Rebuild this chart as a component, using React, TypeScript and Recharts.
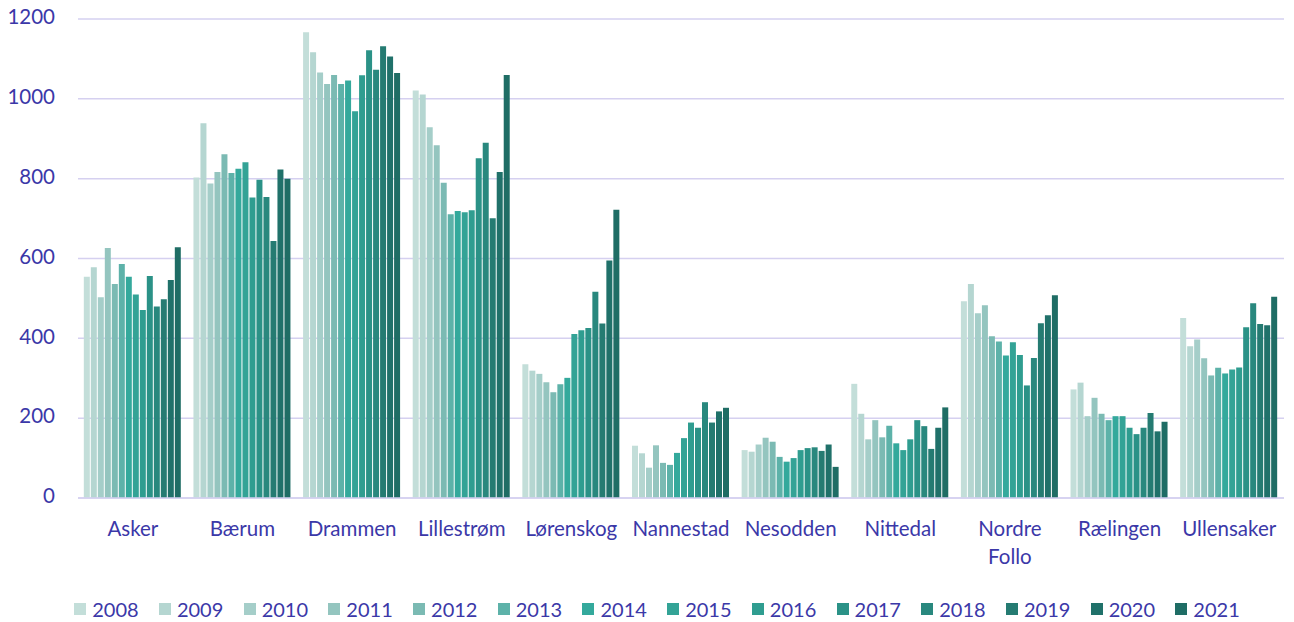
import React from "react";
import { BarChart, Bar, XAxis, YAxis, CartesianGrid, Legend } from "recharts";

const categories = ["Asker", "Bærum", "Drammen", "Lillestrøm", "Lørenskog", "Nannestad", "Nesodden", "Nittedal", "Nordre Follo", "Rælingen", "Ullensaker"];

const v2008 = [554, 803, 1167, 1021, 335, 131, 120, 286, 493, 272, 451];
const v2009 = [578, 939, 1117, 1011, 319, 112, 116, 211, 536, 289, 380];
const v2010 = [503, 788, 1066, 929, 311, 76, 134, 147, 463, 205, 397];
const v2011 = [626, 817, 1037, 884, 290, 132, 151, 195, 483, 251, 350];
const v2012 = [536, 861, 1060, 790, 265, 88, 141, 152, 405, 211, 307];
const v2013 = [586, 814, 1037, 711, 285, 83, 103, 181, 392, 195, 326];
const v2014 = [554, 825, 1046, 719, 301, 113, 91, 137, 357, 205, 312];
const v2015 = [510, 841, 969, 716, 411, 150, 100, 120, 390, 205, 322];
const v2016 = [471, 753, 1059, 721, 420, 189, 120, 147, 358, 176, 327];
const v2017 = [556, 797, 1122, 851, 426, 176, 125, 195, 282, 160, 428];
const v2018 = [480, 754, 1073, 890, 517, 240, 127, 180, 351, 176, 488];
const v2019 = [498, 644, 1132, 701, 437, 189, 118, 123, 438, 213, 436];
const v2020 = [546, 823, 1106, 817, 595, 217, 134, 176, 458, 167, 433];
const v2021 = [628, 800, 1065, 1060, 722, 226, 78, 227, 508, 191, 504];

const years = ["2008", "2009", "2010", "2011", "2012", "2013", "2014", "2015", "2016", "2017", "2018", "2019", "2020", "2021"];
const seriesValues = [v2008, v2009, v2010, v2011, v2012, v2013, v2014, v2015, v2016, v2017, v2018, v2019, v2020, v2021];
const colors = ["#c3ded9", "#b5d6d1", "#a5cec9", "#94c5bf", "#7bbab3", "#5db2a9", "#34a99c", "#33a396", "#2f9d90", "#2b9287", "#29887e", "#257b72", "#20716a", "#1f6d65"];

const yTicks = [0, 200, 400, 600, 800, 1000, 1200];

const TEXT = "#3b38a8";
const GRID = "#d5d0f0";
const FONT = "Lato, 'Open Sans', sans-serif";

const data = categories.map((c, i) => {
  const row: Record<string, string | number> = { name: c };
  years.forEach((y, j) => {
    row[y] = seriesValues[j][i];
  });
  return row;
});

const XTick = (props: any) => {
  const { x, y, payload } = props;
  const words = String(payload.value).split(" ");
  return (
    <g transform={`translate(${x},${y})`}>
      {words.map((w: string, i: number) => (
        <text key={i} x={0} y={25 + i * 28} textAnchor="middle" dominantBaseline="middle" fill={TEXT} fontSize={20.5} fontFamily={FONT}>
          {w}
        </text>
      ))}
    </g>
  );
};

const YTick = (props: any) => {
  const { x, y, payload } = props;
  return (
    <text x={x - 15} y={y} textAnchor="end" dominantBaseline="middle" fill={TEXT} fontSize={20.5} fontFamily={FONT}>
      {payload.value}
    </text>
  );
};

const LegendContent = () => (
  <div style={{ display: "flex", justifyContent: "center", paddingLeft: 30, paddingTop: 6, boxSizing: "border-box", fontFamily: FONT, fontSize: 20, color: TEXT, height: 32, alignItems: "center" }}>
    {years.map((y, i) => (
      <div key={y} style={{ display: "flex", alignItems: "center", marginRight: i < years.length - 1 ? 20.3 : 0 }}>
        <span style={{ display: "inline-block", width: 12, height: 12, background: colors[i], marginRight: 6 }} />
        <span>{y}</span>
      </div>
    ))}
  </div>
);

export default function App() {
  return (
    <div style={{ position: "absolute", left: 0, top: 0, background: "#fff" }}>
      <BarChart
        width={1294}
        height={622}
        data={data}
        margin={{ top: 19, right: 10, left: 0, bottom: 0 }}
        barCategoryGap="5.3%"
        barGap={1}
      >
        <CartesianGrid vertical={false} stroke={GRID} strokeWidth={1.5} />
        <XAxis dataKey="name" height={92} tickLine={false} axisLine={{ stroke: GRID, strokeWidth: 1.5 }} tick={<XTick />} interval={0} />
        <YAxis width={78} domain={[0, 1200]} ticks={yTicks} tickLine={false} axisLine={false} tick={<YTick />} />
        <Legend verticalAlign="bottom" content={<LegendContent />} />
        {years.map((y, i) => (
          <Bar key={y} dataKey={y} fill={colors[i]} isAnimationActive={false} />
        ))}
      </BarChart>
    </div>
  );
}
